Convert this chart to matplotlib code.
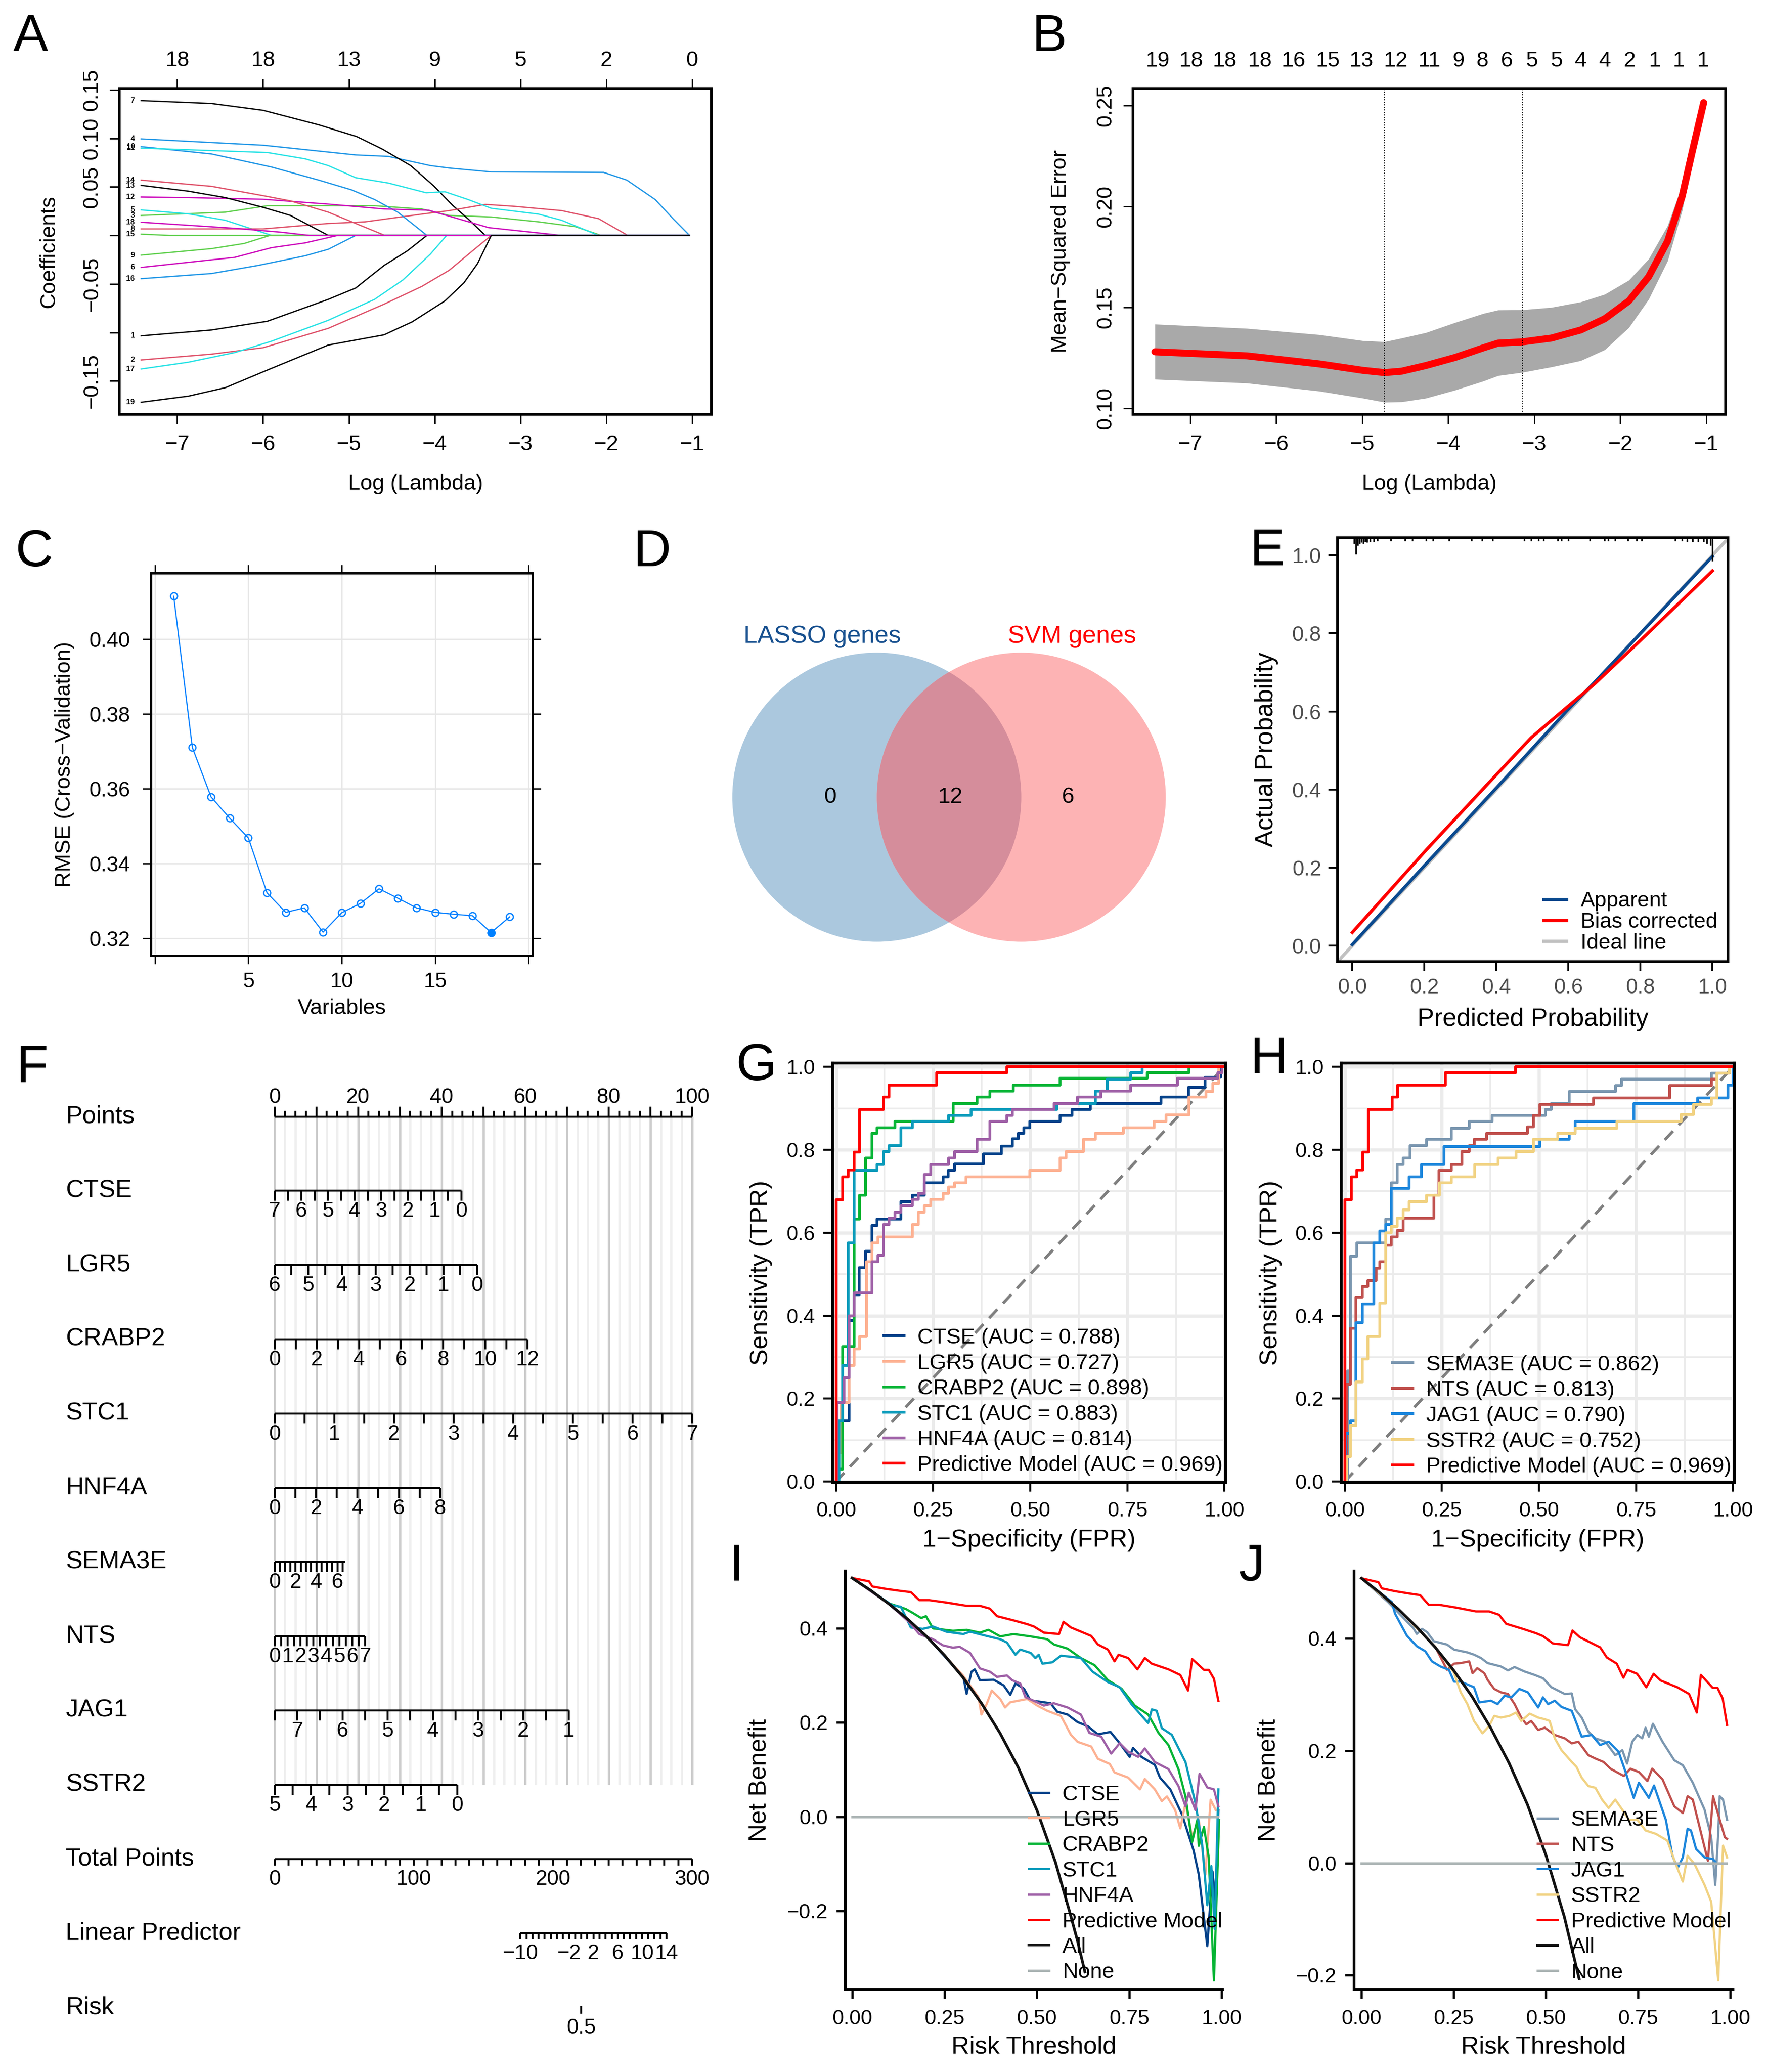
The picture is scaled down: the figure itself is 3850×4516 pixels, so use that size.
import numpy as np
import matplotlib
matplotlib.use("Agg")
import matplotlib.pyplot as plt
import matplotlib.transforms as mtransforms
from matplotlib.patches import Circle

plt.rcParams['font.family'] = ['Liberation Sans', 'DejaVu Sans']
plt.rcParams['axes.unicode_minus'] = True

# ---------------- DATA ----------------
# Panel A: LASSO coefficient paths (log lambda knots, coefficient)
lam_01 = [-7.42, -6.6, -5.95, -5.24, -4.92, -4.59, -4.32, -4.09, -1.03]
coef_01 = [-0.1035, -0.0975, -0.0885, -0.0659, -0.0542, -0.031, -0.016, 0, 0]
lam_02 = [-7.42, -6.6, -6.0, -5.24, -4.59, -4.15, -3.83, -3.56, -3.34, -1.03]
coef_02 = [-0.1284, -0.1224, -0.1158, -0.0958, -0.0709, -0.0526, -0.0359, -0.016, 0, 0]
lam_03 = [-7.42, -6.44, -5.95, -4.70, -4.15, -3.83, -3.34, -2.79, -2.36, -2.06, -1.03]
coef_03 = [0.0206, 0.024, 0.0306, 0.0306, 0.0273, 0.0206, 0.019, 0.014, 0.009, 0, 0]
lam_04 = [-7.42, -6.0, -4.92, -4.54, -4.05, -3.83, -3.34, -2.03, -1.76, -1.43, -1.22, -1.03]
coef_04 = [0.0995, 0.093, 0.083, 0.0815, 0.072, 0.0695, 0.0655, 0.065, 0.057, 0.037, 0.017, 0]
lam_05 = [-7.42, -6.87, -6.44, -5.90, -1.03]
coef_05 = [0.0263, 0.0223, 0.0156, 0, 0]
lam_06 = [-7.42, -6.33, -5.90, -5.51, -5.13, -1.03]
coef_06 = [-0.033, -0.0226, -0.0126, -0.0077, 0, 0]
lam_07 = [-7.42, -6.6, -6.0, -5.35, -4.91, -4.61, -4.28, -4.01, -3.79, -3.61, -3.41, -1.03]
coef_07 = [0.139, 0.136, 0.129, 0.114, 0.102, 0.089, 0.072, 0.051, 0.031, 0.017, 0, 0]
lam_08 = [-7.42, -6.0, -5.24, -4.81, -4.15, -3.83, -3.41, -3.07, -2.52, -2.09, -1.75, -1.03]
coef_08 = [0.0067, 0.0067, 0.0123, 0.014, 0.022, 0.0256, 0.032, 0.030, 0.0256, 0.0173, 0, 0]
lam_09 = [-7.42, -6.6, -6.22, -5.92, -1.03]
coef_09 = [-0.0203, -0.0136, -0.0083, 0, 0]
lam_10 = [-7.42, -6.6, -5.9, -5.35, -4.97, -4.7, -4.43, -4.09, -1.03]
coef_10 = [0.0915, 0.084, 0.0705, 0.057, 0.047, 0.037, 0.024, 0, 0]
lam_11 = [-7.42, -5.95, -5.51, -5.24, -4.92, -4.54, -4.10, -3.88, -3.61, -3.34, -2.79, -2.52, -2.09, -1.03]
coef_11 = [0.090, 0.0855, 0.079, 0.072, 0.0595, 0.054, 0.044, 0.045, 0.037, 0.028, 0.022, 0.0156, 0, 0]
lam_12 = [-7.42, -6.87, -6.0, -5.24, -4.59, -4.07, -3.37, -2.52, -1.03]
coef_12 = [0.0396, 0.039, 0.0373, 0.0323, 0.0273, 0.026, 0.008, 0, 0]
lam_13 = [-7.42, -6.87, -6.44, -6.0, -5.68, -5.24, -1.03]
coef_13 = [0.0516, 0.0456, 0.039, 0.029, 0.0206, 0, 0]
lam_14 = [-7.42, -6.6, -6.0, -5.68, -5.24, -4.92, -4.58, -1.03]
coef_14 = [0.057, 0.0506, 0.041, 0.0356, 0.024, 0.0123, 0, 0]
lam_15 = [-7.42, -7.09, -1.03]
coef_15 = [0.0013, 0, 0]
lam_16 = [-7.42, -6.6, -6.06, -5.51, -5.24, -4.92, -1.03]
coef_16 = [-0.0446, -0.0393, -0.031, -0.021, -0.0143, 0, 0]
lam_17 = [-7.42, -6.87, -6.33, -5.90, -5.24, -4.70, -4.37, -4.05, -3.86, -1.03]
coef_17 = [-0.1377, -0.1307, -0.1208, -0.109, -0.0875, -0.0659, -0.0459, -0.0193, 0, 0]
lam_18 = [-7.42, -6.33, -5.79, -5.46, -1.03]
coef_18 = [0.0136, 0.0073, 0.0033, 0, 0]
lam_19 = [-7.42, -6.87, -6.44, -5.90, -5.24, -4.59, -4.26, -3.88, -3.66, -3.50, -3.34, -1.03]
coef_19 = [-0.172, -0.1657, -0.157, -0.137, -0.113, -0.1025, -0.089, -0.0675, -0.049, -0.029, 0, 0]
a_top_at = [-7, -6, -5, -4, -3, -2, -1]
a_top_df = ['18', '18', '13', '9', '5', '2', '0']
a_yticks = [-0.15, -0.10, -0.05, 0.0, 0.05, 0.10, 0.15]
a_ylabels = ['\u22120.15', '', '\u22120.05', '', '0.05', '0.10', '0.15']

# Panel B: cross-validation curve
cv_lam = [-7.41, -6.34, -5.5, -4.99, -4.74, -4.54, -4.26, -3.92, -3.59, -3.42, -3.14, -2.8,
          -2.46, -2.18, -1.9, -1.67, -1.45, -1.28, -1.17, -1.03]
cv_mse = [0.1280, 0.1260, 0.1220, 0.1188, 0.1177, 0.1184, 0.1212, 0.1252, 0.1300, 0.1323, 0.1329,
          0.1348, 0.1388, 0.1444, 0.1532, 0.1652, 0.1828, 0.2051, 0.2259, 0.2515]
cv_up = [0.1417, 0.1396, 0.1365, 0.1335, 0.1330, 0.1348, 0.1375, 0.1425, 0.1470, 0.1487, 0.1488,
         0.1500, 0.1527, 0.1565, 0.1635, 0.1740, 0.1905, 0.2110, 0.2290, 0.2525]
cv_lo = [0.1144, 0.1125, 0.1085, 0.1050, 0.1030, 0.1032, 0.1050, 0.1090, 0.1135, 0.1162, 0.1178,
         0.1205, 0.1236, 0.1290, 0.1400, 0.1540, 0.1730, 0.1980, 0.2210, 0.2498]
cv_lam_min = -4.74
cv_lam_1se = -3.14
b_top_at = [-7.38, -6.99, -6.60, -6.19, -5.80, -5.40, -5.01, -4.61, -4.22, -3.88, -3.60, -3.32,
            -3.03, -2.74, -2.46, -2.18, -1.89, -1.60, -1.32, -1.04]
b_top_df = ['19', '18', '18', '18', '16', '15', '13', '12', '11', '9', '8', '6', '5', '5', '4',
            '4', '2', '1', '1', '1']

# Panel C: SVM-RFE
rfe_vars = list(range(1, 20))
rfe_rmse = [0.4115, 0.3710, 0.3578, 0.3521, 0.3468, 0.3321, 0.3269, 0.3281, 0.3216, 0.3268,
            0.3293, 0.3332, 0.3307, 0.3281, 0.3269, 0.3264, 0.3260, 0.3215, 0.3257]

# Panel D: Venn
venn_sets = ['LASSO genes', 'SVM genes']
venn_counts = [0, 12, 6]

# Panel E: calibration
app_x = [0.0, 0.205, 0.40, 0.595, 0.672, 0.79, 1.0]
app_y = [0.003, 0.21, 0.404, 0.601, 0.674, 0.79, 0.997]
bias_x = [0.0, 0.205, 0.40, 0.497, 0.595, 0.672, 0.79, 1.0]
bias_y = [0.034, 0.245, 0.438, 0.533, 0.61, 0.670, 0.773, 0.960]
rug_x = [0.005, 0.01, 0.015, 0.02, 0.025, 0.03, 0.035, 0.04, 0.05, 0.06, 0.07, 0.107, 0.146, 0.166,
         0.205, 0.224, 0.268, 0.331, 0.36, 0.39, 0.478, 0.497, 0.517, 0.531, 0.57, 0.58, 0.6, 0.66,
         0.70, 0.71, 0.73, 0.765, 0.79, 0.804, 0.897, 0.916, 0.93, 0.945, 0.96, 0.975, 0.985, 0.995, 1.0]
rug_h = [0.015, 0.042, 0.02, 0.015, 0.012, 0.015, 0.01, 0.012, 0.01, 0.01, 0.008, 0.008, 0.008, 0.008,
         0.008, 0.008, 0.008, 0.008, 0.008, 0.008, 0.008, 0.008, 0.008, 0.008, 0.008, 0.008, 0.008, 0.008,
         0.008, 0.008, 0.008, 0.008, 0.008, 0.008, 0.008, 0.008, 0.01, 0.01, 0.01, 0.01, 0.015, 0.02, 0.06]

# Panel F: nomogram
nomo_vars = ['CTSE', 'LGR5', 'CRABP2', 'STC1', 'HNF4A', 'SEMA3E', 'NTS', 'JAG1', 'SSTR2']
nomo_val_at_0 = [7, 6, 0, 0, 0, 0, 0, 7.5, 5]
nomo_val_at_end = [0, 0, 12, 7, 8, 6.7, 7, 1, 0]
nomo_pts_at_end = [44.7, 48.5, 60.6, 100, 39.7, 16.8, 21.7, 70.4, 43.8]
nomo_tick_step = [0.5, 0.5, 1, 0.5, 1, 0.5, 0.5, 0.5, 0.5]
nomo_label_step = [1, 1, 2, 1, 2, 2, 1, 1, 1]
total_max = 300
lp_ticks = list(range(-10, 15))
lp_labels = [-10, -2, 2, 6, 10, 14]
lp_total_at_0 = 220.3
lp_total_per_unit = 4.375
risk_ticks = [0.5]

# Panel G: ROC (step knots)
roc_pm_fpr = [0, 0, 0.017, 0.031, 0.046, 0.061, 0.122, 0.136, 0.259, 0.440, 1.0]
roc_pm_tpr = [0, 0.679, 0.735, 0.751, 0.794, 0.897, 0.927, 0.956, 0.986, 1.0, 1.0]
roc_ctse_fpr = [0, 0.007, 0.033, 0.047, 0.06, 0.076, 0.092, 0.106, 0.167, 0.197, 0.227, 0.275, 0.288,
                0.305, 0.38, 0.426, 0.454, 0.469, 0.484, 0.499, 0.577, 0.607, 0.655, 0.836, 0.907,
                0.95, 0.99, 1.0]
roc_ctse_tpr = [0, 0.146, 0.388, 0.45, 0.516, 0.555, 0.617, 0.633, 0.675, 0.69, 0.72, 0.735, 0.75,
                0.766, 0.79, 0.809, 0.826, 0.84, 0.853, 0.868, 0.883, 0.897, 0.912, 0.927, 0.95,
                0.975, 1.0, 1.0]
roc_lgr5_fpr = [0, 0, 0.014, 0.033, 0.047, 0.061, 0.078, 0.093, 0.108, 0.197, 0.212, 0.227, 0.244,
                0.275, 0.29, 0.305, 0.335, 0.499, 0.577, 0.592, 0.637, 0.668, 0.74, 0.819, 0.849,
                0.909, 0.952, 0.97, 0.985, 1.0]
roc_lgr5_tpr = [0, 0.07, 0.19, 0.28, 0.32, 0.35, 0.53, 0.575, 0.59, 0.62, 0.65, 0.665, 0.68, 0.695,
                0.71, 0.72, 0.735, 0.75, 0.78, 0.795, 0.825, 0.84, 0.853, 0.868, 0.884, 0.927, 0.94,
                0.96, 1.0, 1.0]
roc_crabp2_fpr = [0, 0.007, 0.017, 0.046, 0.061, 0.076, 0.092, 0.106, 0.152, 0.302, 0.363, 0.396,
                  0.456, 0.577, 0.801, 0.909, 1.0]
roc_crabp2_tpr = [0, 0.03, 0.325, 0.633, 0.69, 0.78, 0.84, 0.853, 0.868, 0.912, 0.927, 0.942, 0.956,
                  0.972, 0.986, 1.0, 1.0]
roc_stc1_fpr = [0, 0.007, 0.017, 0.031, 0.046, 0.106, 0.122, 0.136, 0.167, 0.197, 0.29, 0.348, 0.568,
                0.668, 0.698, 0.758, 0.788, 1.0]
roc_stc1_tpr = [0, 0.146, 0.28, 0.575, 0.75, 0.765, 0.795, 0.81, 0.853, 0.868, 0.883, 0.897, 0.912,
                0.942, 0.97, 0.986, 1.0, 1.0]
roc_hnf4a_fpr = [0, 0.003, 0.02, 0.033, 0.047, 0.092, 0.108, 0.122, 0.136, 0.152, 0.167, 0.197, 0.212,
                 0.227, 0.244, 0.29, 0.305, 0.363, 0.396, 0.44, 0.454, 0.561, 0.622, 0.682, 0.758,
                 0.879, 0.983, 0.993, 1.0]
roc_hnf4a_tpr = [0, 0.19, 0.25, 0.4, 0.455, 0.53, 0.545, 0.62, 0.635, 0.65, 0.665, 0.68, 0.695, 0.74,
                 0.765, 0.78, 0.795, 0.825, 0.868, 0.883, 0.897, 0.912, 0.927, 0.942, 0.956, 0.972,
                 0.986, 1.0, 1.0]
# Panel H
roc_sema3e_fpr = [0, 0.008, 0.015, 0.031, 0.106, 0.12, 0.135, 0.151, 0.168, 0.211, 0.274, 0.32, 0.38,
                  0.516, 0.532, 0.578, 0.697, 0.712, 0.944, 0.99, 1.0]
roc_sema3e_tpr = [0, 0.267, 0.543, 0.575, 0.633, 0.72, 0.765, 0.78, 0.81, 0.825, 0.852, 0.868, 0.883,
                  0.897, 0.912, 0.94, 0.955, 0.97, 0.985, 1.0, 1.0]
roc_nts_fpr = [0, 0.005, 0.015, 0.029, 0.045, 0.06, 0.081, 0.09, 0.106, 0.12, 0.135, 0.151, 0.229,
               0.242, 0.274, 0.302, 0.32, 0.333, 0.365, 0.471, 0.486, 0.502, 0.64, 0.837, 0.944, 0.958,
               0.99, 1.0]
roc_nts_tpr = [0, 0.235, 0.37, 0.445, 0.47, 0.485, 0.515, 0.53, 0.57, 0.59, 0.605, 0.635, 0.69, 0.75,
               0.765, 0.795, 0.81, 0.825, 0.84, 0.855, 0.883, 0.91, 0.925, 0.955, 0.97, 0.985, 1.0, 1.0]
roc_jag1_fpr = [0, 0.002, 0.015, 0.029, 0.045, 0.075, 0.09, 0.106, 0.12, 0.166, 0.198, 0.256, 0.502,
                0.578, 0.593, 0.744, 0.909, 0.987, 1.0]
roc_jag1_tpr = [0, 0.116, 0.146, 0.383, 0.428, 0.575, 0.604, 0.62, 0.707, 0.735, 0.765, 0.808, 0.825,
                0.84, 0.868, 0.912, 0.925, 0.956, 1.0]
roc_sstr2_fpr = [0, 0.005, 0.015, 0.029, 0.045, 0.06, 0.09, 0.106, 0.12, 0.135, 0.151, 0.166, 0.211,
                 0.244, 0.274, 0.335, 0.395, 0.441, 0.486, 0.548, 0.593, 0.701, 0.866, 0.898, 0.944,
                 0.958, 0.99, 1.0]
roc_sstr2_tpr = [0, 0.06, 0.135, 0.24, 0.295, 0.35, 0.43, 0.6, 0.615, 0.635, 0.655, 0.675, 0.69, 0.72,
                 0.735, 0.765, 0.78, 0.795, 0.825, 0.84, 0.852, 0.868, 0.885, 0.91, 0.925, 0.985, 1.0, 1.0]
auc_g = [0.788, 0.727, 0.898, 0.883, 0.814, 0.969]
auc_h = [0.862, 0.813, 0.790, 0.752, 0.969]
diag_ref = [0, 1]

# Panels I / J: decision curves
dca_all_t = [0, 0.05, 0.1, 0.15, 0.2, 0.25, 0.3, 0.35, 0.4, 0.45, 0.5, 0.55, 0.59, 0.61, 0.63]
dca_all_nb = [0.507, 0.481, 0.452, 0.420, 0.384, 0.343, 0.296, 0.241, 0.178, 0.104, 0.014, -0.096,
              -0.206, -0.264, -0.33]
dca_none_t = [0, 0.99]
dca_none_nb = [0, 0]
dca_pm_t = [0, 0.046, 0.055, 0.091, 0.128, 0.159, 0.182, 0.209, 0.255, 0.31, 0.346, 0.373, 0.392,
            0.437, 0.474, 0.492, 0.519, 0.56, 0.572, 0.592, 0.647, 0.665, 0.692, 0.71, 0.721, 0.747,
            0.772, 0.792, 0.811, 0.856, 0.888, 0.909, 0.92, 0.952, 0.965, 0.979, 0.991]
dca_pm_nb = [0.507, 0.5, 0.489, 0.484, 0.48, 0.477, 0.46, 0.46, 0.455, 0.448, 0.448, 0.442, 0.426,
             0.417, 0.409, 0.404, 0.391, 0.388, 0.414, 0.402, 0.384, 0.366, 0.355, 0.33, 0.344, 0.337,
             0.313, 0.337, 0.325, 0.313, 0.301, 0.268, 0.335, 0.312, 0.312, 0.293, 0.246]
dca_ctse_t = [0, 0.1, 0.2, 0.291, 0.301, 0.31, 0.323, 0.332, 0.346, 0.383, 0.41, 0.428, 0.442, 0.465,
              0.483, 0.501, 0.537, 0.555, 0.583, 0.61, 0.638, 0.665, 0.699, 0.724, 0.751, 0.76, 0.783,
              0.819, 0.833, 0.861, 0.893, 0.924, 0.938, 0.961, 0.975, 0.984, 0.991]
dca_ctse_nb = [0.507, 0.452, 0.385, 0.305, 0.297, 0.261, 0.308, 0.313, 0.29, 0.291, 0.279, 0.259, 0.283,
               0.272, 0.246, 0.245, 0.241, 0.223, 0.217, 0.201, 0.192, 0.175, 0.18, 0.156, 0.127, 0.146,
               0.127, 0.11, 0.083, 0.058, 0.004, -0.072, -0.123, -0.275, -0.116, -0.188, 0.014]
dca_lgr5_t = [0, 0.1, 0.2, 0.3, 0.342, 0.35, 0.364, 0.378, 0.401, 0.414, 0.428, 0.474, 0.501, 0.528,
              0.565, 0.592, 0.61, 0.647, 0.665, 0.697, 0.71, 0.747, 0.779, 0.792, 0.819, 0.838, 0.852,
              0.874, 0.888, 0.902, 0.92, 0.938, 0.956, 0.97, 0.984]
dca_lgr5_nb = [0.507, 0.452, 0.385, 0.300, 0.254, 0.217, 0.239, 0.268, 0.25, 0.232, 0.243, 0.25, 0.236,
               0.225, 0.214, 0.174, 0.159, 0.149, 0.123, 0.112, 0.094, 0.083, 0.058, 0.08, 0.058, 0.033,
               0.043, 0.014, -0.025, 0.029, -0.043, -0.007, -0.123, 0.036, 0.014]
dca_crabp2_t = [0, 0.1, 0.128, 0.146, 0.164, 0.187, 0.2, 0.219, 0.273, 0.31, 0.346, 0.369, 0.401,
                0.437, 0.483, 0.528, 0.546, 0.583, 0.619, 0.656, 0.692, 0.729, 0.765, 0.801, 0.829,
                0.856, 0.883, 0.902, 0.92, 0.934, 0.938, 0.952, 0.965, 0.979, 0.993]
dca_crabp2_nb = [0.507, 0.453, 0.446, 0.441, 0.433, 0.422, 0.426, 0.4, 0.395, 0.397, 0.391, 0.397,
                 0.383, 0.388, 0.383, 0.377, 0.366, 0.357, 0.337, 0.322, 0.29, 0.272, 0.236, 0.217,
                 0.178, 0.152, 0.101, 0.043, -0.054, -0.007, -0.062, -0.022, -0.087, -0.348, -0.007]
dca_stc1_t = [0, 0.109, 0.132, 0.159, 0.191, 0.219, 0.255, 0.301, 0.319, 0.364, 0.401, 0.419, 0.442,
              0.455, 0.483, 0.496, 0.505, 0.515, 0.542, 0.565, 0.601, 0.619, 0.651, 0.692, 0.724,
              0.756, 0.792, 0.801, 0.811, 0.824, 0.838, 0.865, 0.902, 0.929, 0.947, 0.961, 0.972,
              0.981, 0.991]
dca_stc1_nb = [0.507, 0.449, 0.446, 0.402, 0.399, 0.404, 0.393, 0.388, 0.393, 0.384, 0.377, 0.37,
               0.344, 0.355, 0.348, 0.337, 0.344, 0.325, 0.328, 0.342, 0.339, 0.337, 0.308, 0.286,
               0.275, 0.239, 0.207, 0.199, 0.228, 0.225, 0.188, 0.174, 0.116, 0.029, -0.058, -0.188,
               -0.105, -0.239, 0.058]
dca_hnf4a_t = [0, 0.1, 0.155, 0.182, 0.219, 0.246, 0.273, 0.291, 0.319, 0.346, 0.373, 0.392, 0.419,
               0.433, 0.455, 0.469, 0.492, 0.519, 0.546, 0.583, 0.619, 0.642, 0.674, 0.701, 0.724,
               0.747, 0.774, 0.792, 0.819, 0.856, 0.883, 0.902, 0.911, 0.929, 0.94, 0.961, 0.979, 0.991]
dca_hnf4a_nb = [0.507, 0.452, 0.413, 0.388, 0.377, 0.364, 0.359, 0.361, 0.348, 0.315, 0.308, 0.297,
                0.3, 0.29, 0.283, 0.254, 0.246, 0.236, 0.241, 0.232, 0.217, 0.178, 0.17, 0.134, 0.156,
                0.138, 0.127, 0.145, 0.116, 0.101, 0.065, 0.022, 0.051, 0.014, 0.091, 0.062, 0.058, 0.022]
dca_sema3e_t = [0, 0.073, 0.141, 0.15, 0.164, 0.178, 0.196, 0.214, 0.232, 0.251, 0.287, 0.305, 0.324,
                0.342, 0.378, 0.397, 0.415, 0.442, 0.469, 0.492, 0.515, 0.533, 0.551, 0.57, 0.579,
                0.597, 0.615, 0.634, 0.661, 0.688, 0.707, 0.72, 0.734, 0.748, 0.761, 0.77, 0.779, 0.79,
                0.816, 0.848, 0.871, 0.898, 0.93, 0.948, 0.959, 0.967, 0.971, 0.98, 0.991]
dca_sema3e_nb = [0.507, 0.464, 0.418, 0.408, 0.417, 0.411, 0.395, 0.392, 0.389, 0.38, 0.375, 0.371,
                 0.365, 0.356, 0.35, 0.343, 0.349, 0.341, 0.335, 0.329, 0.313, 0.307, 0.301, 0.302,
                 0.274, 0.259, 0.234, 0.222, 0.216, 0.192, 0.201, 0.177, 0.216, 0.228, 0.222, 0.241,
                 0.225, 0.248, 0.216, 0.183, 0.174, 0.143, 0.095, 0.046, -0.039, 0.052, 0.119, 0.113, 0.077]
dca_nts_t = [0, 0.1, 0.2, 0.232, 0.251, 0.269, 0.292, 0.301, 0.314, 0.333, 0.342, 0.36, 0.378, 0.397,
             0.415, 0.433, 0.447, 0.46, 0.479, 0.497, 0.524, 0.551, 0.57, 0.588, 0.615, 0.634, 0.656,
             0.675, 0.711, 0.729, 0.752, 0.775, 0.788, 0.816, 0.848, 0.871, 0.884, 0.898, 0.921,
             0.939, 0.953, 0.971, 0.985, 0.991]
dca_nts_nb = [0.507, 0.452, 0.385, 0.344, 0.355, 0.356, 0.359, 0.338, 0.347, 0.338, 0.326, 0.31,
              0.304, 0.301, 0.283, 0.259, 0.247, 0.253, 0.237, 0.241, 0.228, 0.222, 0.213, 0.216,
              0.192, 0.186, 0.18, 0.168, 0.155, 0.168, 0.162, 0.146, 0.168, 0.149, 0.101, 0.089,
              0.119, 0.113, 0.052, 0.004, 0.119, 0.077, 0.046, 0.043]
dca_jag1_t = [0, 0.082, 0.091, 0.123, 0.15, 0.173, 0.191, 0.214, 0.237, 0.251, 0.269, 0.305, 0.319,
              0.351, 0.369, 0.388, 0.406, 0.428, 0.451, 0.479, 0.492, 0.506, 0.524, 0.542, 0.57, 0.597,
              0.624, 0.647, 0.67, 0.697, 0.716, 0.738, 0.752, 0.779, 0.793, 0.825, 0.843, 0.857, 0.871,
              0.884, 0.893, 0.907, 0.93, 0.953, 0.962]
dca_jag1_nb = [0.507, 0.465, 0.444, 0.405, 0.386, 0.377, 0.359, 0.35, 0.344, 0.323, 0.323, 0.313,
               0.286, 0.289, 0.283, 0.298, 0.295, 0.31, 0.304, 0.277, 0.295, 0.283, 0.289, 0.278, 0.271,
               0.225, 0.228, 0.21, 0.216, 0.198, 0.162, 0.116, 0.143, 0.116, 0.138, 0.077, 0.013,
               -0.009, 0.01, 0.061, 0.058, 0.025, 0.01, 0.007, 0.0]
dca_sstr2_t = [0, 0.1, 0.2, 0.25, 0.269, 0.287, 0.305, 0.328, 0.346, 0.36, 0.378, 0.401, 0.419, 0.433,
               0.456, 0.479, 0.497, 0.51, 0.524, 0.542, 0.57, 0.583, 0.597, 0.615, 0.634, 0.652, 0.67,
               0.688, 0.707, 0.725, 0.748, 0.77, 0.798, 0.829, 0.852, 0.871, 0.884, 0.903, 0.93, 0.948,
               0.967, 0.98, 0.991]
dca_sstr2_nb = [0.507, 0.452, 0.385, 0.34, 0.304, 0.283, 0.253, 0.231, 0.244, 0.262, 0.259, 0.262,
                0.268, 0.253, 0.266, 0.259, 0.256, 0.253, 0.222, 0.201, 0.18, 0.171, 0.152, 0.137,
                0.134, 0.113, 0.098, 0.113, 0.095, 0.077, 0.077, 0.058, 0.052, 0.04, -0.002, -0.033,
                0.013, -0.002, -0.039, -0.069, -0.209, 0.031, 0.01]

# colours
col_ctse, col_lgr5, col_crabp2 = '#034189', '#FDB192', '#05B434'
col_stc1, col_hnf4a, col_pm = '#0A9BBB', '#9E5FA6', '#FF0000'
col_sema3e, col_nts, col_jag1, col_sstr2 = '#7B97B0', '#C0504D', '#1C86DC', '#F1D282'

# ---------------- FIGURE ----------------
W, H = 3850, 4516
DPI = 100
fig = plt.figure(figsize=(W / DPI, H / DPI), dpi=DPI, facecolor='white')


def add_ax(l, t, r, b):
    ax = fig.add_axes([l / W, 1 - b / H, (r - l) / W, (b - t) / H])
    ax._px = (l, t, r, b)
    return ax


def xlab(ax, text, dy, fs, color='black'):
    l, t, r, b = ax._px
    ax.set_xlabel(text, fontsize=fs, color=color)
    ax.xaxis.set_label_coords(0.5, -dy / (b - t))
    ax.xaxis.label.set_va('center')


def ylab(ax, text, dx, fs):
    l, t, r, b = ax._px
    ax.set_ylabel(text, fontsize=fs)
    ax.yaxis.set_label_coords(-dx / (r - l), 0.5)
    ax.yaxis.label.set_va('center')


def legend_at(ax, handles, labels, x, y, fs, pitch_px, hl_px, pad_px):
    fs_px = fs * DPI / 72.0
    trans = mtransforms.offset_copy(ax.transData, fig=fig, x=0, y=0.38 * fs_px, units='dots')
    return ax.legend(handles, labels, loc='upper left', bbox_to_anchor=(x, y), bbox_transform=trans,
                     frameon=False, fontsize=fs, borderpad=0, borderaxespad=0,
                     labelspacing=pitch_px / fs_px - 0.94, handlelength=hl_px / fs_px,
                     handletextpad=pad_px / fs_px)


def box(ax, lw):
    for s in ax.spines.values():
        s.set_linewidth(lw)
        s.set_color('black')


def rpad(lo, hi, f=0.04):
    d = (hi - lo) * f
    return lo - d, hi + d


# ---------- Panel A ----------
axA = add_ax(260, 193, 1551, 903)
pal = ['black', '#DF536B', '#61D04F', '#2297E6', '#28E2E5', '#CD0BBC']
lams = [lam_01, lam_02, lam_03, lam_04, lam_05, lam_06, lam_07, lam_08, lam_09, lam_10,
        lam_11, lam_12, lam_13, lam_14, lam_15, lam_16, lam_17, lam_18, lam_19]
coefs = [coef_01, coef_02, coef_03, coef_04, coef_05, coef_06, coef_07, coef_08, coef_09, coef_10,
         coef_11, coef_12, coef_13, coef_14, coef_15, coef_16, coef_17, coef_18, coef_19]
for i, (lx, cy) in enumerate(zip(lams, coefs), start=1):
    axA.plot(lx, cy, color=pal[(i - 1) % 6], lw=2.0)
    axA.annotate(str(i), (lx[0], cy[0]), xytext=(-10, 0), textcoords='offset points',
                 ha='right', va='center', fontsize=12, fontweight='bold')
allx = np.concatenate(lams)
ally = np.concatenate(coefs)
axA.set_xlim(*rpad(allx.min(), allx.max()))
axA.set_ylim(*rpad(ally.min(), ally.max()))
axA.set_xticks(a_top_at)
axA.set_yticks(a_yticks)
axA.set_yticklabels(a_ylabels, rotation=90, va='center')
box(axA, 4.3)
axA.tick_params(axis='x', direction='out', length=15, width=2.2, labelsize=34, pad=17)
axA.tick_params(axis='y', direction='out', length=15, width=2.2, labelsize=34, pad=12)
axA2 = axA.twiny()
axA2.set_xlim(axA.get_xlim())
axA2.set_xticks(a_top_at)
axA2.set_xticklabels(a_top_df)
axA2.tick_params(axis='x', direction='out', length=15, width=2.2, labelsize=34, pad=13)
for s in axA2.spines.values():
    s.set_visible(False)
xlab(axA, 'Log (Lambda)', 152, 34)
ylab(axA, 'Coefficients', 153, 34)

# ---------- Panel B ----------
axB = add_ax(2470, 193, 3762, 903)
axB.fill_between(cv_lam, cv_lo, cv_up, color='#a9a9a9', lw=0)
axB.plot(cv_lam, cv_mse, color='red', lw=11, solid_capstyle='round')
axB.axvline(cv_lam_min, color='black', ls=':', lw=1.5)
axB.axvline(cv_lam_1se, color='black', ls=':', lw=1.5)
axB.set_xlim(*rpad(min(cv_lam), max(cv_lam)))
axB.set_ylim(*rpad(min(cv_lo), max(cv_up)))
axB.set_xticks(a_top_at)
axB.set_yticks([0.10, 0.15, 0.20, 0.25])
axB.set_yticklabels(['0.10', '0.15', '0.20', '0.25'], rotation=90, va='center')
box(axB, 4.3)
axB.tick_params(axis='x', direction='out', length=15, width=2.2, labelsize=34, pad=17)
axB.tick_params(axis='y', direction='out', length=15, width=2.2, labelsize=34, pad=12)
axB2 = axB.twiny()
axB2.set_xlim(axB.get_xlim())
axB2.set_xticks(b_top_at)
axB2.set_xticklabels(b_top_df)
axB2.tick_params(axis='x', length=0, labelsize=34, pad=27)
for s in axB2.spines.values():
    s.set_visible(False)
xlab(axB, 'Log (Lambda)', 152, 34)
ylab(axB, 'Mean\u2212Squared Error', 158, 34)

# ---------- Panel C ----------
axC = add_ax(329, 1249, 1161, 2083)
axC.plot(rfe_vars, rfe_rmse, color='#0080ff', lw=1.8, marker='o', ms=11, mfc='none', mew=2.0)
best = int(np.argmin(rfe_rmse))
axC.plot([rfe_vars[best]], [rfe_rmse[best]], 'o', color='#0080ff', ms=12)
axC.set_xlim(-0.22, 20.22)
axC.set_ylim(0.3153, 0.4177)
axC.set_xticks([0, 5, 10, 15, 20])
axC.set_xticklabels(['', '5', '10', '15', ''])
axC.set_yticks([0.32, 0.34, 0.36, 0.38, 0.40])
axC.set_yticklabels(['0.32', '0.34', '0.36', '0.38', '0.40'])
axC.grid(True, color='#e6e6e6', lw=2)
axC.set_axisbelow(True)
box(axC, 3.6)
axC.tick_params(direction='out', length=13, width=2, labelsize=33, top=True, right=True, pad=12)
axC.tick_params(axis='y', pad=20)
xlab(axC, 'Variables', 115, 34)
ylab(axC, 'RMSE (Cross\u2212Validation)', 188, 34)

# ---------- Panel D ----------
axD = add_ax(1450, 1300, 2700, 2150)
axD.set_xlim(1450, 2700)
axD.set_ylim(2150, 1300)
axD.set_aspect('equal')
axD.axis('off')
cL = Circle((1911.5, 1737.5), 315, facecolor='#abc8de', edgecolor='none')
cR = Circle((2226.5, 1737.5), 315, facecolor='#fdb3b4', edgecolor='none')
axD.add_patch(cL)
axD.add_patch(cR)
cO = Circle((2226.5, 1737.5), 315, facecolor='#d58d9b', edgecolor='none')
axD.add_patch(cO)
cO.set_clip_path(cL)
axD.text(1793, 1387, venn_sets[0], color='#17508F', fontsize=39, ha='center', va='center')
axD.text(2337, 1387, venn_sets[1], color='#FF0000', fontsize=39, ha='center', va='center')
for xx, cnt in zip([1810, 2071, 2328], venn_counts):
    axD.text(xx, 1738, str(cnt), fontsize=35, ha='center', va='center')

# ---------- Panel E ----------
axE = add_ax(2916, 1172, 3767, 2096)
axE.set_xlim(-0.041, 1.043)
axE.set_ylim(-0.041, 1.045)
lid = axE.axline((diag_ref[0], diag_ref[0]), (diag_ref[1], diag_ref[1]), color='#c0c0c0', lw=5)
lap, = axE.plot(app_x, app_y, color='#0B4A8F', lw=5)
lbc, = axE.plot(bias_x, bias_y, color='#FF0000', lw=5)
ytop = axE.get_ylim()[1]
axE.vlines(rug_x, [ytop - h for h in rug_h], ytop, color='black', lw=2.5)
axE.set_xticks([0, 0.2, 0.4, 0.6, 0.8, 1.0])
axE.set_yticks([0, 0.2, 0.4, 0.6, 0.8, 1.0])
axE.xaxis.set_major_formatter(matplotlib.ticker.FormatStrFormatter('%.1f'))
axE.yaxis.set_major_formatter(matplotlib.ticker.FormatStrFormatter('%.1f'))
box(axE, 4.3)
axE.tick_params(direction='out', length=14.5, width=2.9, labelsize=33, labelcolor='#4D4D4D')
axE.tick_params(axis='x', pad=11)
axE.tick_params(axis='y', pad=11)
xlab(axE, 'Predicted Probability', 126, 39.5)
ylab(axE, 'Actual Probability', 155, 39.5)
legend_at(axE, [lap, lbc, lid], ['Apparent', 'Bias corrected', 'Ideal line'], 0.531, 0.1186,
          33.6, 45.5, 50, 31)

# ---------- Panel F : nomogram ----------
axF = add_ax(0, 2330, 1560, 4516)
px_per_pt = (1509 - 598.6) / 100.0
row_px = 161.8
axF.set_xlim((0 - 598.6) / px_per_pt, (1560 - 598.6) / px_per_pt)
axF.set_ylim((4516 - 2433.5) / row_px, (2330 - 2433.5) / row_px)
axF.axis('off')
blend = mtransforms.blended_transform_factory(axF.transAxes, axF.transData)
row_names = ['Points'] + nomo_vars + ['Total Points', 'Linear Predictor', 'Risk']
for r, name in enumerate(row_names):
    axF.text(143 / 1560, r, name, transform=blend, fontsize=39, ha='left', va='center')
alw = 3.1
tk_long = 22 / row_px
tk_short = 13 / row_px
tk_bot = 14 / row_px
lab_off = 45 / row_px


def fmt(v):
    return ('%g' % v).replace('-', '\u2212')


# grid
for p in np.arange(0, 100.01, 2.5):
    major = abs(p % 10) < 1e-9
    axF.vlines(p, 0, len(nomo_vars), color='#cccccc' if major else '#efefef', lw=3.6, zorder=0)
# Points axis
axF.hlines(0, 0, 100, color='black', lw=alw)
for p in np.arange(0, 100.01, 2.5):
    major = abs(p % 10) < 1e-9
    axF.vlines(p, -(tk_long if major else tk_short), 0, color='black', lw=alw)
for p in range(0, 101, 20):
    axF.text(p, -42 / row_px, fmt(p), fontsize=33, ha='center', va='center')
# variable axes
for i, name in enumerate(nomo_vars):
    r = i + 1
    v0, v1, p1 = nomo_val_at_0[i], nomo_val_at_end[i], nomo_pts_at_end[i]

    def to_pts(v, v0=v0, v1=v1, p1=p1):
        return (v - v0) / (v1 - v0) * p1

    axF.hlines(r, 0, p1, color='black', lw=alw)
    vmin, vmax = min(v0, v1), max(v0, v1)
    st = nomo_tick_step[i]
    ticks = np.arange(np.ceil(vmin / st) * st, vmax + 1e-9, st)
    for v in ticks:
        axF.vlines(to_pts(v), r, r + tk_long, color='black', lw=alw)
    ls_ = nomo_label_step[i]
    for v in np.arange(np.ceil(vmin / ls_) * ls_, vmax + 1e-9, ls_):
        axF.text(to_pts(v), r + lab_off, fmt(v), fontsize=33, ha='center', va='center')
# total points
rt = len(nomo_vars) + 1
axF.hlines(rt, 0, 100, color='black', lw=alw)
for tp in range(0, total_max + 1, 10):
    axF.vlines(tp * 100.0 / total_max, rt, rt + tk_bot, color='black', lw=alw)
for tp in range(0, total_max + 1, 100):
    axF.text(tp * 100.0 / total_max, rt + lab_off, fmt(tp), fontsize=33, ha='center', va='center')
# linear predictor
rl = rt + 1


def lp_pts(lp):
    return (lp_total_at_0 + lp_total_per_unit * lp) * 100.0 / total_max


axF.hlines(rl, lp_pts(min(lp_ticks)), lp_pts(max(lp_ticks)), color='black', lw=alw)
for lp in lp_ticks:
    axF.vlines(lp_pts(lp), rl, rl + tk_bot, color='black', lw=alw)
for lp in lp_labels:
    axF.text(lp_pts(lp), rl + lab_off, fmt(lp), fontsize=33, ha='center', va='center')
# risk
rr = rl + 1
for rk in risk_ticks:
    lp = np.log(rk / (1 - rk))
    axF.vlines(lp_pts(lp), rr - 0.02, rr + tk_bot, color='black', lw=alw)
    axF.text(lp_pts(lp), rr + lab_off, fmt(rk), fontsize=33, ha='center', va='center')


# ---------- Panels G, H : ROC ----------
def roc_axes(ax):
    ax.set_xlim(-0.009, 1.003)
    ax.set_ylim(-0.002, 1.009)
    ax.set_xticks([0, 0.25, 0.5, 0.75, 1.0])
    ax.set_xticks([0.125, 0.375, 0.625, 0.875], minor=True)
    ax.set_yticks([0, 0.2, 0.4, 0.6, 0.8, 1.0])
    ax.set_yticks([0.1, 0.3, 0.5, 0.7, 0.9], minor=True)
    ax.set_xticklabels(['0.00', '0.25', '0.50', '0.75', '1.00'])
    ax.set_yticklabels(['0.0', '0.2', '0.4', '0.6', '0.8', '1.0'])
    ax.grid(which='major', color='#ebebeb', lw=5)
    ax.grid(which='minor', color='#ebebeb', lw=2.6)
    ax.set_axisbelow(True)
    ax.tick_params(which='minor', length=0)
    ax.tick_params(which='major', direction='out', length=14.5, width=3.2, labelsize=32.5)
    ax.tick_params(axis='x', pad=16)
    ax.tick_params(axis='y', pad=13)
    box(ax, 4.5)
    ax.plot(diag_ref, diag_ref, color='#7f7f7f', lw=4.5, ls=(0, (4.2, 2.9)))


axG = add_ax(1815, 2317, 2672, 3231)
roc_axes(axG)
g_curves = [(roc_ctse_fpr, roc_ctse_tpr, col_ctse, 'CTSE'),
            (roc_lgr5_fpr, roc_lgr5_tpr, col_lgr5, 'LGR5'),
            (roc_crabp2_fpr, roc_crabp2_tpr, col_crabp2, 'CRABP2'),
            (roc_stc1_fpr, roc_stc1_tpr, col_stc1, 'STC1'),
            (roc_hnf4a_fpr, roc_hnf4a_tpr, col_hnf4a, 'HNF4A'),
            (roc_pm_fpr, roc_pm_tpr, col_pm, 'Predictive Model')]
hG, lG = [], []
for (fx, ty, c, n), a in zip(g_curves, auc_g):
    ln, = axG.plot(fx, ty, drawstyle='steps-post', color=c, lw=4.4)
    hG.append(ln)
    lG.append('%s (AUC = %.3f)' % (n, a))
legend_at(axG, hG, lG, 0.123, 0.351, 34, 56, 44, 29)
xlab(axG, '1\u2212Specificity (FPR)', 126, 39)
ylab(axG, 'Sensitivity (TPR)', 156, 39)

axH = add_ax(2924, 2317, 3781, 3231)
roc_axes(axH)
h_curves = [(roc_sema3e_fpr, roc_sema3e_tpr, col_sema3e, 'SEMA3E'),
            (roc_nts_fpr, roc_nts_tpr, col_nts, 'NTS'),
            (roc_jag1_fpr, roc_jag1_tpr, col_jag1, 'JAG1'),
            (roc_sstr2_fpr, roc_sstr2_tpr, col_sstr2, 'SSTR2'),
            (roc_pm_fpr, roc_pm_tpr, col_pm, 'Predictive Model')]
hH, lH = [], []
for (fx, ty, c, n), a in zip(h_curves, auc_h):
    ln, = axH.plot(fx, ty, drawstyle='steps-post', color=c, lw=4.4)
    hH.append(ln)
    lH.append('%s (AUC = %.3f)' % (n, a))
legend_at(axH, hH, lH, 0.123, 0.286, 34, 56, 44, 29)
xlab(axH, '1\u2212Specificity (FPR)', 126, 39)
ylab(axH, 'Sensitivity (TPR)', 154, 39)


# ---------- Panels I, J : DCA ----------
def dca_axes(ax, xlim, ylim):
    ax.set_xlim(*xlim)
    ax.set_ylim(*ylim)
    for s in ['top', 'right']:
        ax.spines[s].set_visible(False)
    for s in ['left', 'bottom']:
        ax.spines[s].set_linewidth(4.3)
    ax.set_xticks([0, 0.25, 0.5, 0.75, 1.0])
    ax.set_xticklabels(['0.00', '0.25', '0.50', '0.75', '1.00'])
    ax.set_yticks([-0.2, 0, 0.2, 0.4])
    ax.set_yticklabels(['\u22120.2', '0.0', '0.2', '0.4'])
    ax.tick_params(direction='out', length=14.5, width=3.4, labelsize=32.5)
    ax.tick_params(axis='x', pad=17)
    ax.tick_params(axis='y', pad=13)


def draw_dca(ax, curves, leg_x, leg_y):
    hs, ls_ = [], []
    mins = []
    for t, nb, c, n in curves:
        ln, = ax.plot(t, nb, color=c, lw=3.5)
        hs.append(ln)
        ls_.append(n)
        mins.append(min(nb))
    pm, = ax.plot(dca_pm_t, dca_pm_nb, color=col_pm, lw=3.5)
    cut = min(mins + [min(dca_pm_nb)]) - 0.005
    at = [t for t, v in zip(dca_all_t, dca_all_nb) if v >= cut]
    an = [v for v in dca_all_nb if v >= cut]
    al, = ax.plot(at, an, color='#111111', lw=4.3)
    nl, = ax.plot(dca_none_t, dca_none_nb, color='#aab3b3', lw=3.8)
    legend_at(ax, hs + [pm, al, nl], ls_ + ['Predictive Model', 'All', 'None'], leg_x, leg_y,
              34, 55.8, 44, 29)


axI = add_ax(1843, 3424, 2665, 4336)
dca_axes(axI, (-0.018, 1.002), (-0.367, 0.522))
draw_dca(axI, [(dca_ctse_t, dca_ctse_nb, col_ctse, 'CTSE'),
               (dca_lgr5_t, dca_lgr5_nb, col_lgr5, 'LGR5'),
               (dca_crabp2_t, dca_crabp2_nb, col_crabp2, 'CRABP2'),
               (dca_stc1_t, dca_stc1_nb, col_stc1, 'STC1'),
               (dca_hnf4a_t, dca_hnf4a_nb, col_hnf4a, 'HNF4A')], 0.478, 0.0507)
xlab(axI, 'Risk Threshold', 126, 39)
ylab(axI, 'Net Benefit', 187, 39)

axJ = add_ax(2952, 3424, 3778, 4336)
dca_axes(axJ, (-0.02, 1.007), (-0.225, 0.52))
draw_dca(axJ, [(dca_sema3e_t, dca_sema3e_nb, col_sema3e, 'SEMA3E'),
               (dca_nts_t, dca_nts_nb, col_nts, 'NTS'),
               (dca_jag1_t, dca_jag1_nb, col_jag1, 'JAG1'),
               (dca_sstr2_t, dca_sstr2_nb, col_sstr2, 'SSTR2')], 0.477, 0.0796)
xlab(axJ, 'Risk Threshold', 126, 39)
ylab(axJ, 'Net Benefit', 186, 39)

# ---------- panel letters ----------
letters = [('A', 29, 111), ('B', 2250, 111), ('C', 33, 1234), ('D', 1381, 1234), ('E', 2725, 1232),
           ('F', 36, 2358), ('G', 1604, 2354), ('H', 2726, 2339), ('I', 1590, 3445), ('J', 2700, 3445)]
for ch, x, y in letters:
    fig.text(x / W, 1 - y / H, ch, fontsize=82, ha='left', va='baseline')

fig.savefig('out.png', dpi=DPI, facecolor='white')
